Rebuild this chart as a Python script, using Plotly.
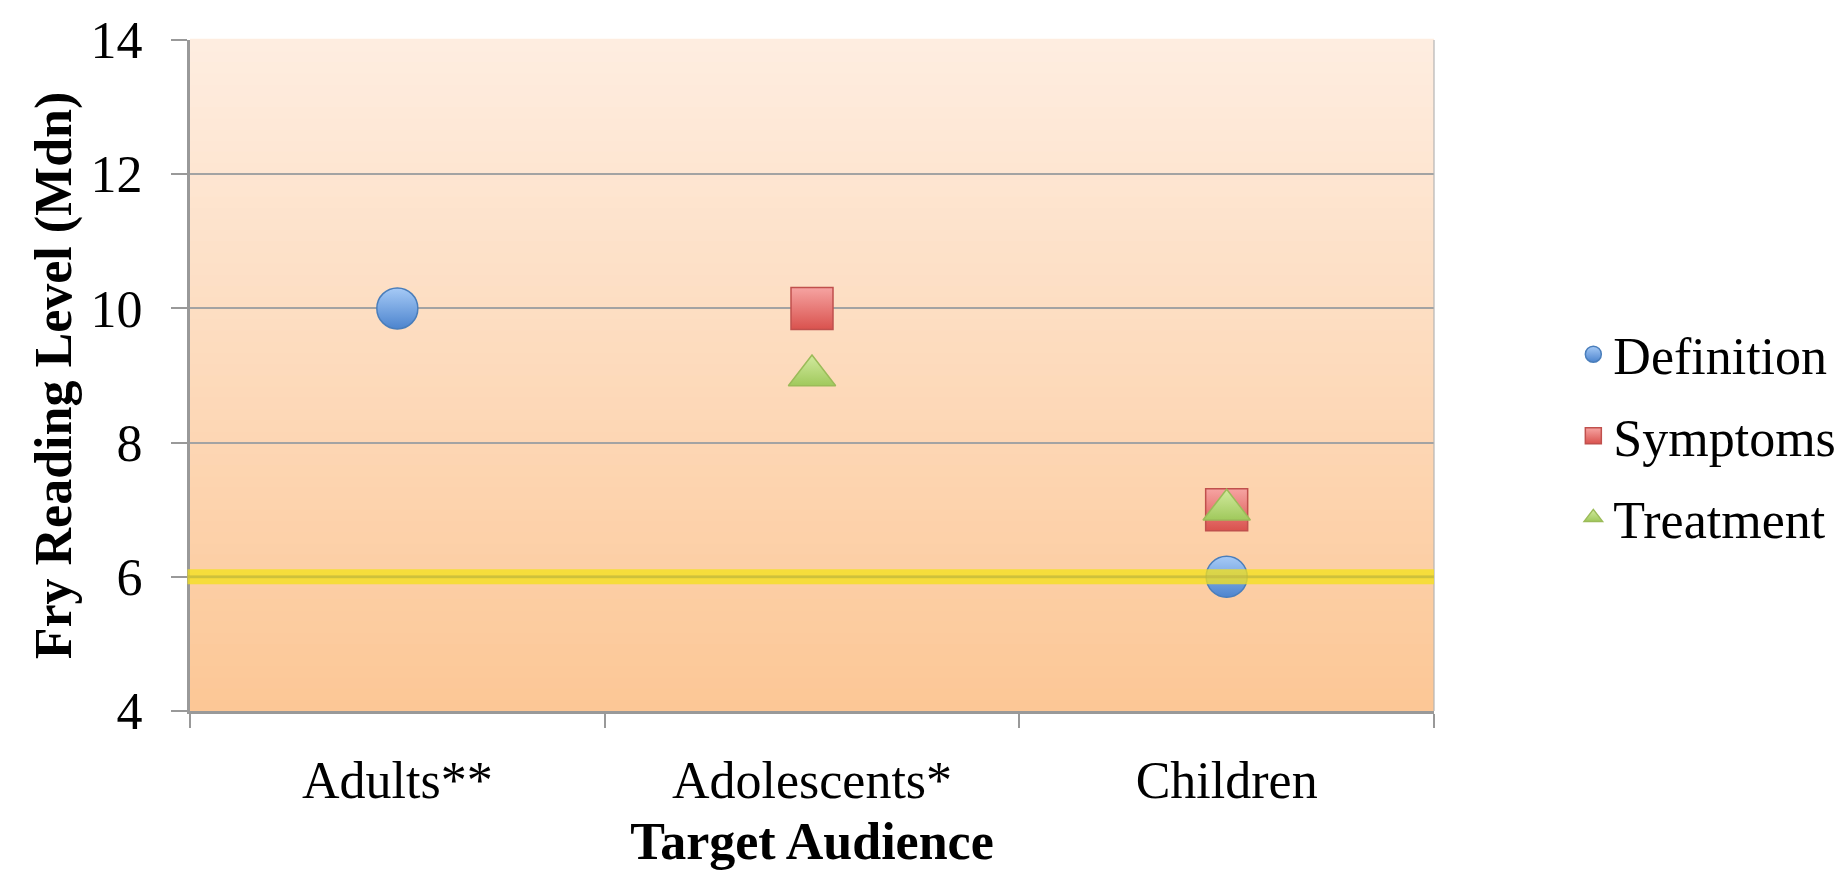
import plotly.graph_objects as go

categories = ["Adults**", "Adolescents*", "Children"]
definition = [10, None, 6]
symptoms = [None, 10, 7]
treatment = [None, 9, 7]
series_names = ["Definition", "Symptoms", "Treatment"]
y_ticks = [4, 6, 8, 10, 12, 14]
target_level = 6

FONT = "Liberation Serif"

styles = {
    "Definition": dict(symbol="circle", size=41, top="#A6CAF6", bottom="#4C84CE", line="#4A7EBB"),
    "Symptoms": dict(symbol="square", size=42, top="#F6A4A2", bottom="#D9524E", line="#C0504D"),
    "Treatment": dict(symbol="triangle-up", size=41, top="#D2EA9F", bottom="#A0C95C", line="#9BBB59"),
}

fig = go.Figure()
for name, vals in zip(series_names, [definition, symptoms, treatment]):
    s = styles[name]
    fig.add_trace(go.Scatter(
        x=categories, y=vals, mode="markers", name=name, legendgroup=name,
        marker=dict(symbol=s["symbol"], size=s["size"], color=s["top"],
                    gradient=dict(type="vertical", color=s["bottom"]),
                    line=dict(color=s["line"], width=1.5)),
        cliponaxis=False,
    ))

# gradient background stripes
n = 60
top_c = (254, 237, 224)
bot_c = (252, 199, 150)
shapes = []
for i in range(n):
    t = i / (n - 1)
    c = tuple(round(bot_c[k] + (top_c[k] - bot_c[k]) * t) for k in range(3))
    shapes.append(dict(type="rect", xref="x domain", yref="y domain",
                       x0=0, x1=1, y0=i / n, y1=(i + 1) / n + 0.002,
                       fillcolor="rgb(%d,%d,%d)" % c, line=dict(width=0), layer="below"))
# faint right border of the plot area
shapes.append(dict(type="line", xref="x domain", yref="y domain", x0=1, x1=1, y0=0, y1=1,
                   line=dict(color="rgba(180,180,180,0.6)", width=2), layer="above"))
# target reading level line
shapes.append(dict(type="line", xref="x domain", yref="y", x0=-0.002, x1=1,
                   y0=target_level, y1=target_level,
                   line=dict(color="rgba(243,224,30,0.78)", width=15), layer="above"))
shapes.append(dict(type="line", xref="x domain", yref="y", x0=-0.002, x1=1,
                   y0=target_level, y1=target_level,
                   line=dict(color="rgba(180,170,60,0.45)", width=3), layer="above"))

fig.update_layout(
    width=1843, height=870,
    margin=dict(l=190, r=409, t=40, b=159, autoexpand=False),
    paper_bgcolor="white", plot_bgcolor="rgba(0,0,0,0)",
    font=dict(family=FONT, size=52, color="black"),
    shapes=shapes,
    showlegend=True,
    legend=dict(x=1.112, xanchor="left", y=0.41, yanchor="middle",
                font=dict(family=FONT, size=52), tracegroupgap=11,
                bgcolor="rgba(0,0,0,0)", itemsizing="trace"),
    xaxis=dict(
        type="category", categoryorder="array", categoryarray=categories,
        range=[-0.5, 2.5], tickson="boundaries", ticks="outside", ticklen=14,
        tickcolor="#999999", tickwidth=2, showgrid=False,
        showline=True, linecolor="#999999", linewidth=3,
        ticklabelstandoff=22, automargin=False,
        title=dict(text="<b>Target Audience</b>", standoff=23,
                   font=dict(family=FONT, size=52)),
        tickfont=dict(family=FONT, size=52),
    ),
    yaxis=dict(
        range=[4, 14], tickvals=y_ticks, ticks="outside", ticklen=16,
        tickcolor="#999999", tickwidth=2,
        showgrid=True, gridcolor="#A3A3A3", gridwidth=2,
        showline=True, linecolor="#999999", linewidth=3, zeroline=False,
        ticklabelstandoff=18, automargin=False,
        title=dict(text="<b>Fry Reading Level (Mdn)</b>", standoff=3,
                   font=dict(family=FONT, size=52)),
        tickfont=dict(family=FONT, size=52),
    ),
)

fig.write_html("out.html")
